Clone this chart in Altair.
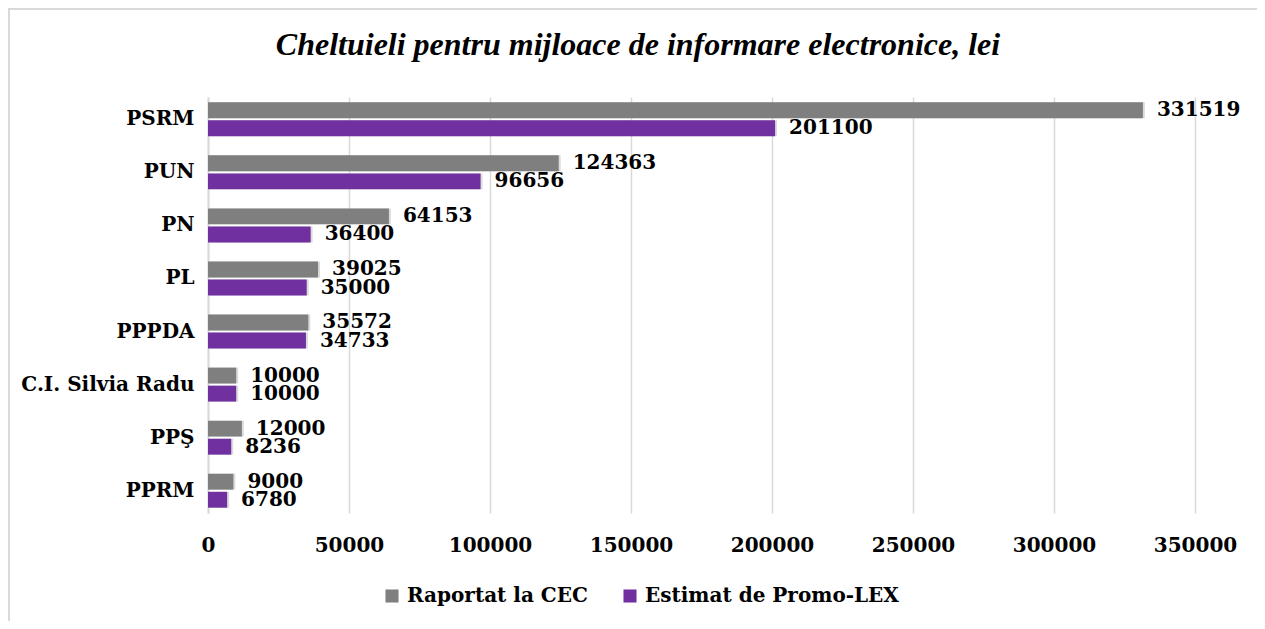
import altair as alt
import pandas as pd

categories = ["PSRM", "PUN", "PN", "PL", "PPPDA", "C.I. Silvia Radu", "PPŞ", "PPRM"]
raportat = [331519, 124363, 64153, 39025, 35572, 10000, 12000, 9000]
estimat = [201100, 96656, 36400, 35000, 34733, 10000, 8236, 6780]
series = ["Raportat la CEC", "Estimat de Promo-LEX"]
colors = ["#7f7f7f", "#7030a0"]
ticks = [0, 50000, 100000, 150000, 200000, 250000, 300000, 350000]
title_text = ["Cheltuieli pentru mijloace de informare electronice, lei"]

rows = []
for c, r, e in zip(categories, raportat, estimat):
    rows.append({"partid": c, "serie": series[0], "valoare": r})
    rows.append({"partid": c, "serie": series[1], "valoare": e})
df = pd.DataFrame(rows)

FONT = "DejaVu Serif"

y = alt.Y(
    "partid:N", sort=categories,
    scale=alt.Scale(paddingInner=0.36, paddingOuter=0.1),
    axis=alt.Axis(title=None, labelFont=FONT, labelFontWeight="bold", labelFontSize=20,
                  labelColor="black", labelPadding=14, ticks=False, domain=True,
                  domainColor="#d9d9d9", domainWidth=2, grid=False),
)
yoff = alt.YOffset("serie:N", sort=series, scale=alt.Scale(paddingInner=0.12))
x = alt.X(
    "valoare:Q",
    scale=alt.Scale(domain=[0, 350000], nice=False),
    axis=alt.Axis(values=ticks, format="d", title=None, labelFont=FONT, labelFontWeight="bold",
                  labelFontSize=20, labelColor="black", grid=True, gridColor="#d9d9d9",
                  gridWidth=1.5, domain=False, ticks=False, labelPadding=22, labelFlush=False),
)

base = alt.Chart(df)

shadow = base.mark_bar(color="black", opacity=0.14, xOffset=2, yOffset=3).encode(x=x, y=y, yOffset=yoff)

bars = base.mark_bar().encode(
    x=x, y=y, yOffset=yoff,
    color=alt.Color(
        "serie:N", sort=series,
        scale=alt.Scale(domain=series, range=colors),
        legend=alt.Legend(title=None, orient="none", legendX=174, legendY=489,
                          direction="horizontal", symbolType="square", symbolSize=170,
                          labelFont=FONT, labelFontWeight="bold", labelFontSize=20,
                          labelColor="black", columnPadding=32, labelOffset=5,
                          labelLimit=400, symbolStrokeWidth=0),
    ),
)

labels = base.mark_text(align="left", baseline="middle", dx=14, font=FONT, fontWeight="bold",
                        fontSize=20, color="black").encode(
    x=x, y=y, yOffset=yoff, text=alt.Text("valoare:Q", format="d")
)

one = pd.DataFrame({"a": [0]})
border_left = alt.Chart(one).mark_rule(color="#d9d9d9", strokeWidth=2).encode(
    x=alt.value(-199), y=alt.value(-88), y2=alt.value(560)
)
border_top = alt.Chart(one).mark_rule(color="#d9d9d9", strokeWidth=2).encode(
    x=alt.value(-200), x2=alt.value(1100), y=alt.value(-88)
)

title = alt.Chart(pd.DataFrame({"t": title_text})).mark_text(
    font="Liberation Serif", fontStyle="italic", fontWeight="bold", fontSize=32,
    color="black", align="center", baseline="alphabetic"
).encode(text="t:N", x=alt.value(430), y=alt.value(-42))

chart = alt.layer(border_left, border_top, title, shadow, bars, labels).properties(
    width=987, height=416,
    padding={"left": 200, "top": 89, "right": 62, "bottom": 108},
    autosize=alt.AutoSizeParams(type="none"),
).configure_view(stroke=None)

chart.save("out.html", embed_options={"renderer": "svg", "actions": False})
